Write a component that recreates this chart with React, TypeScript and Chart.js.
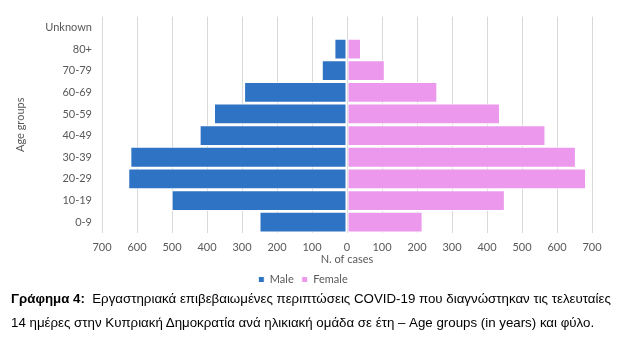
import React, { useEffect, useRef } from "react";
import { Chart, registerables } from "chart.js";

Chart.register(...registerables);

const ageGroups = ["Unknown", "80+", "70-79", "60-69", "50-59", "40-49", "30-39", "20-29", "10-19", "0-9"];
const maleCases = [0, 36, 72, 294, 380, 421, 619, 625, 501, 250];
const femaleCases = [0, 40, 108, 258, 437, 567, 654, 683, 451, 216];
const xTicks = [-700, -600, -500, -400, -300, -200, -100, 0, 100, 200, 300, 400, 500, 600, 700];

const FONT = "Lato";
const GREY = "#595959";

export default function App() {
  const ref = useRef<HTMLCanvasElement | null>(null);

  useEffect(() => {
    if (!ref.current) return;
    const chart = new Chart(ref.current, {
      type: "bar",
      data: {
        labels: ageGroups,
        datasets: [
          {
            label: "Male",
            data: maleCases.map((v) => -v),
            backgroundColor: "#2E73C4",
            borderColor: "#ffffff",
            borderWidth: 1,
            borderSkipped: false,
          },
          {
            label: "Female",
            data: femaleCases,
            backgroundColor: "#EC98EC",
            borderColor: "#ffffff",
            borderWidth: 1,
            borderSkipped: false,
          },
        ],
      },
      options: {
        indexAxis: "y",
        responsive: false,
        animation: false,
        devicePixelRatio: 1,
        layout: { padding: { top: 16, right: 30, left: 14, bottom: 0 } },
        scales: {
          x: {
            stacked: true,
            min: -700,
            max: 700,
            afterBuildTicks: (scale: any) => {
              scale.ticks = xTicks.map((v) => ({ value: v }));
            },
            afterFit: (scale: any) => {
              scale.height = 33;
            },
            grid: { color: "#d9d9d9", drawTicks: false, lineWidth: 1 },
            border: { display: false },
            ticks: {
              color: GREY,
              font: { family: FONT, size: 11 },
              padding: 8,
              maxRotation: 0,
              callback: (v: any) => String(Math.abs(Number(v))),
            },
            title: {
              display: true,
              text: "N. of cases",
              color: GREY,
              font: { family: FONT, size: 11 },
              padding: { top: 0, bottom: 0 },
            },
          },
          y: {
            stacked: true,
            afterFit: (scale: any) => {
              scale.width = 88;
            },
            grid: { display: false, drawTicks: false },
            border: { display: false },
            ticks: {
              color: GREY,
              font: { family: FONT, size: 11 },
              padding: 10,
            },
            title: {
              display: true,
              text: "Age groups",
              color: GREY,
              font: { family: FONT, size: 11 },
              padding: { top: 0, bottom: 0 },
            },
          },
        },
        datasets: {
          bar: { barPercentage: 0.96, categoryPercentage: 1 },
        },
        plugins: {
          legend: {
            position: "bottom",
            labels: {
              color: GREY,
              font: { family: FONT, size: 11 },
              boxWidth: 6,
              boxHeight: 6,
              padding: 8,
            },
          },
          tooltip: { enabled: false },
        },
      } as any,
    });
    return () => chart.destroy();
  }, []);

  return (
    <div style={{ position: "absolute", left: 0, top: 0, width: 622, height: 354, background: "#fff" }}>
      <canvas ref={ref} width={622} height={295} style={{ position: "absolute", left: 0, top: 0, width: 622, height: 295 }} />
      <div
        style={{
          position: "absolute",
          left: 11,
          top: 287,
          width: 611,
          fontFamily: "'Liberation Sans', Arial, sans-serif",
          fontSize: 13.3,
          lineHeight: "24px",
          color: "#000",
          whiteSpace: "nowrap",
        }}
      >
        <div>
          <b>Γράφημα 4:</b>&nbsp; Εργαστηριακά επιβεβαιωμένες περιπτώσεις COVID-19 που διαγνώστηκαν τις τελευταίες
        </div>
        <div>14 ημέρες στην Κυπριακή Δημοκρατία ανά ηλικιακή ομάδα σε έτη – Age groups (in years) και φύλο.</div>
      </div>
    </div>
  );
}
